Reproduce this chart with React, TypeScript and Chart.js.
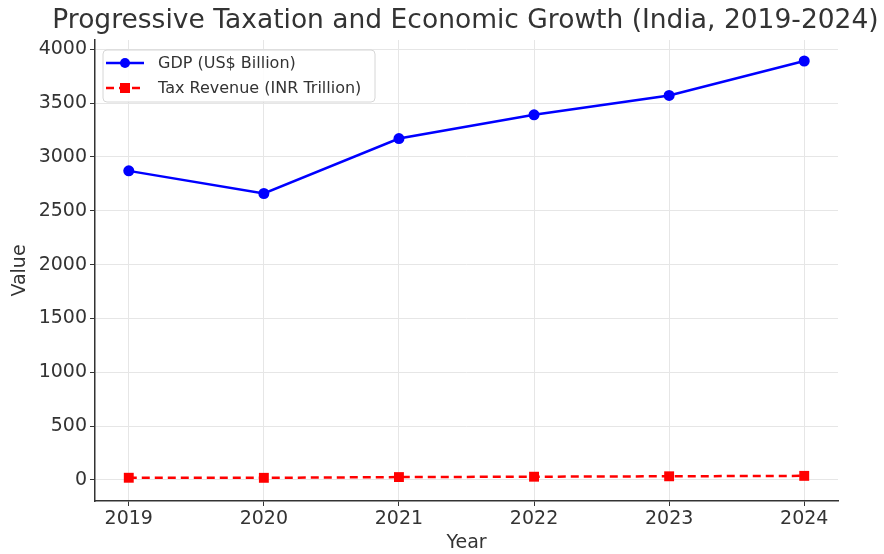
import React, { useEffect, useRef } from "react";
import { Chart, registerables } from "chart.js";

Chart.register(...registerables);

const titleText = "Progressive Taxation and Economic Growth (India, 2019-2024)";
const years = [2019, 2020, 2021, 2022, 2023, 2024];
const gdpValues = [2870, 2660, 3170, 3390, 3570, 3890];
const taxValues = [20.8, 20.2, 27.1, 30.5, 34.4, 38.4];
const yTickValues = [0, 500, 1000, 1500, 2000, 2500, 3000, 3500, 4000];
const seriesLabels = ["GDP (US$ Billion)", "Tax Revenue (INR Trillion)"];
const xAxisTitle = "Year";
const yAxisTitle = "Value";

const FONT = "'DejaVu Sans', 'Liberation Sans', sans-serif";
const TEXT = "#333333";
const BLUE = "#0000ff";
const RED = "#ff0000";

const overlayPlugin = {
  id: "overlay",
  afterDraw(chart: any) {
    const { ctx, chartArea } = chart;
    ctx.save();
    // title
    ctx.fillStyle = TEXT;
    ctx.font = `26.5px ${FONT}`;
    ctx.textAlign = "center";
    ctx.textBaseline = "middle";
    ctx.fillText(titleText, (chartArea.left + chartArea.right) / 2 - 1, 21);

    // legend
    const lx = chartArea.left + 8;
    const ly = chartArea.top + 10;
    const lw = 272;
    const lh = 52;
    ctx.beginPath();
    const r = 4;
    ctx.moveTo(lx + r, ly);
    ctx.lineTo(lx + lw - r, ly);
    ctx.quadraticCurveTo(lx + lw, ly, lx + lw, ly + r);
    ctx.lineTo(lx + lw, ly + lh - r);
    ctx.quadraticCurveTo(lx + lw, ly + lh, lx + lw - r, ly + lh);
    ctx.lineTo(lx + r, ly + lh);
    ctx.quadraticCurveTo(lx, ly + lh, lx, ly + lh - r);
    ctx.lineTo(lx, ly + r);
    ctx.quadraticCurveTo(lx, ly, lx + r, ly);
    ctx.closePath();
    ctx.fillStyle = "rgba(255,255,255,0.85)";
    ctx.fill();
    ctx.strokeStyle = "#d6d6d6";
    ctx.lineWidth = 1;
    ctx.stroke();

    const rows = [ly + 13, ly + 38];
    const x0 = lx + 3;
    const x1 = lx + 41;
    const xm = (x0 + x1) / 2;
    // GDP row
    ctx.strokeStyle = BLUE;
    ctx.lineWidth = 2.5;
    ctx.setLineDash([]);
    ctx.beginPath();
    ctx.moveTo(x0, rows[0]);
    ctx.lineTo(x1, rows[0]);
    ctx.stroke();
    ctx.fillStyle = BLUE;
    ctx.beginPath();
    ctx.arc(xm, rows[0], 5, 0, Math.PI * 2);
    ctx.fill();
    // Tax row
    ctx.strokeStyle = RED;
    ctx.setLineDash([8, 5]);
    ctx.beginPath();
    ctx.moveTo(x0, rows[1]);
    ctx.lineTo(x1, rows[1]);
    ctx.stroke();
    ctx.setLineDash([]);
    ctx.fillStyle = RED;
    ctx.fillRect(xm - 5, rows[1] - 5, 10, 10);

    ctx.fillStyle = TEXT;
    ctx.font = `16px ${FONT}`;
    ctx.textAlign = "left";
    ctx.textBaseline = "middle";
    ctx.fillText(seriesLabels[0], lx + 55, rows[0] + 1);
    ctx.fillText(seriesLabels[1], lx + 55, rows[1] + 1);
    ctx.restore();
  },
};

export default function App() {
  const ref = useRef<HTMLCanvasElement | null>(null);
  useEffect(() => {
    document.body.style.margin = "0";
    if (!ref.current) return;
    const chart = new Chart(ref.current, {
      type: "line",
      data: {
        datasets: [
          {
            label: seriesLabels[0],
            data: years.map((y, i) => ({ x: y, y: gdpValues[i] })),
            borderColor: BLUE,
            backgroundColor: BLUE,
            borderWidth: 2.5,
            pointStyle: "circle",
            pointRadius: 5.5,
            pointBorderWidth: 0,
            tension: 0,
          },
          {
            label: seriesLabels[1],
            data: years.map((y, i) => ({ x: y, y: taxValues[i] })),
            borderColor: RED,
            backgroundColor: RED,
            borderWidth: 2.5,
            borderDash: [8, 5],
            pointStyle: "rect",
            pointRadius: 7,
            pointBorderWidth: 0,
            tension: 0,
          },
        ],
      },
      options: {
        animation: false,
        responsive: false,
        layout: { padding: { left: 0, top: 40, right: 46, bottom: 0 } },
        plugins: {
          legend: { display: false },
          title: { display: false },
          tooltip: { enabled: false },
        },
        scales: {
          x: {
            type: "linear",
            min: 2018.75,
            max: 2024.25,
            afterBuildTicks: (scale: any) => {
              scale.ticks = years.map((v) => ({ value: v }));
            },
            afterFit: (scale: any) => {
              scale.height = 53;
            },
            ticks: {
              color: TEXT,
              font: { family: FONT, size: 19 },
              padding: 2,
              maxRotation: 0,
              autoSkip: false,
              callback: (v: any) => String(v),
            },
            grid: {
              color: "#e6e6e6",
              lineWidth: 1,
              drawTicks: true,
              tickLength: 5,
              tickColor: "#333333",
            },
            border: { display: true, color: "#333333", width: 1.5 },
            title: {
              display: true,
              text: xAxisTitle,
              color: TEXT,
              font: { family: FONT, size: 19 },
              padding: { top: 0, bottom: 0 },
            },
          },
          y: {
            type: "linear",
            min: -195,
            max: 4085,
            afterBuildTicks: (scale: any) => {
              scale.ticks = yTickValues.map((v) => ({ value: v }));
            },
            afterFit: (scale: any) => {
              scale.width = 95;
            },
            ticks: {
              color: TEXT,
              font: { family: FONT, size: 19 },
              padding: 3,
              autoSkip: false,
              callback: (v: any) => String(v),
            },
            grid: {
              color: "#e6e6e6",
              lineWidth: 1,
              drawTicks: true,
              tickLength: 5,
              tickColor: "#333333",
            },
            border: { display: true, color: "#333333", width: 1.5 },
            title: {
              display: true,
              text: yAxisTitle,
              color: TEXT,
              font: { family: FONT, size: 19 },
              padding: { top: 9, bottom: 0 },
            },
          },
        },
      },
      plugins: [overlayPlugin],
    } as any);
    return () => chart.destroy();
  }, []);
  return (
    <div style={{ position: "absolute", left: 0, top: 0, width: 884, height: 554 }}>
      <canvas ref={ref} width={884} height={554} style={{ width: 884, height: 554 }} />
    </div>
  );
}
